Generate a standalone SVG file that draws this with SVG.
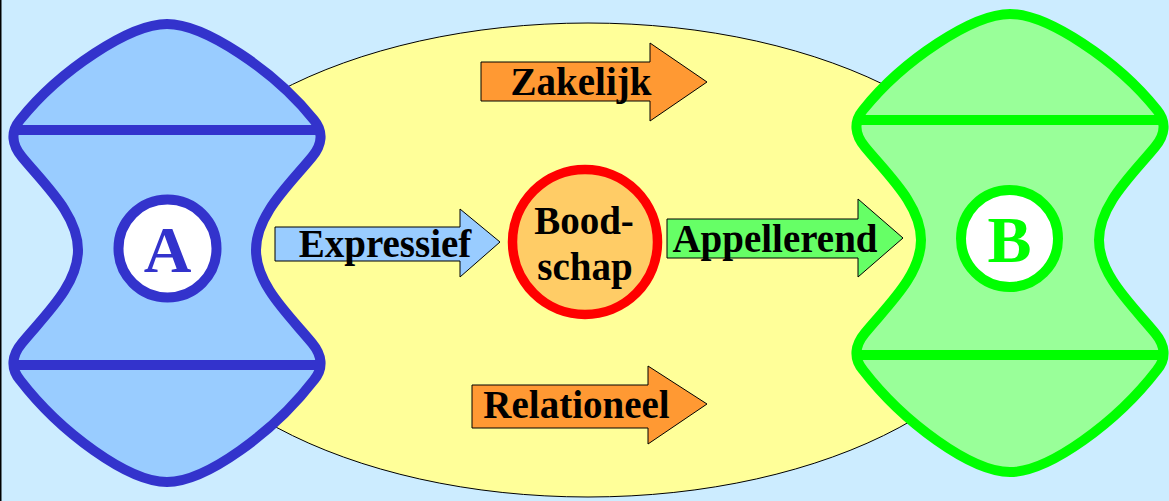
<svg xmlns="http://www.w3.org/2000/svg" width="1169" height="501" viewBox="0 0 1169 501">
  <defs>
    <style>
      .lbl { font-family: "Liberation Serif", "Times New Roman", serif; font-weight: bold; font-size: 39px; fill: #000; text-anchor: middle; }
      .letter { font-family: "Liberation Serif", "Times New Roman", serif; font-weight: bold; font-size: 66px; text-anchor: middle; }
      .barrow { stroke: #000; stroke-width: 1; stroke-linejoin: miter; }
      .party { stroke-width: 10; stroke-linejoin: round; }
    </style>
    <!-- hourglass outline of a communicating party, centred on x=167 -->
    <path id="hourglass" d="M167,24 C130,24 60,70 20,120 C10,132 12,145 22,157 C45,185 78,215 78,250 C78,285 45,315 22,343 C12,355 10,368 20,380 C60,432 128,482 167,482 C206,482 274,432 314,380 C324,368 322,355 312,343 C289,315 256,285 256,250 C256,215 289,185 312,157 C322,145 324,132 314,120 C274,70 204,24 167,24 Z"/>
  </defs>

  <!-- background -->
  <rect x="0" y="0" width="1169" height="501" fill="#CCECFF"/>
  <line x1="0.75" y1="0" x2="0.75" y2="501" stroke="#000" stroke-width="1.5"/>

  <!-- message field -->
  <g id="field">
    <ellipse cx="588" cy="260" rx="440" ry="237" fill="#FFFF99" stroke="#000" stroke-width="1"/>
  </g>

  <!-- sender A -->
  <g id="sender-A">
    <use href="#hourglass" class="party" fill="#99CCFF" stroke="#3333CC"/>
    <line x1="14" y1="130" x2="320" y2="130" stroke="#3333CC" stroke-width="10"/>
    <line x1="14" y1="365" x2="320" y2="365" stroke="#3333CC" stroke-width="10"/>
    <circle cx="167.5" cy="248.5" r="49" fill="#FFFFFF" stroke="#3333CC" stroke-width="10"/>
    <text class="letter" x="167.5" y="272" fill="#3333CC">A</text>
  </g>

  <!-- receiver B -->
  <g id="receiver-B">
    <use href="#hourglass" transform="translate(843,-10)" class="party" fill="#99FF99" stroke="#00FF00"/>
    <line x1="857" y1="120" x2="1163" y2="120" stroke="#00FF00" stroke-width="10"/>
    <line x1="857" y1="355" x2="1163" y2="355" stroke="#00FF00" stroke-width="10"/>
    <circle cx="1009.5" cy="238.5" r="48.5" fill="#FFFFFF" stroke="#00FF00" stroke-width="10"/>
    <text class="letter" x="1009.5" y="262" fill="#00FF00">B</text>
  </g>

  <!-- message -->
  <g id="message">
    <circle cx="585" cy="242" r="72.5" fill="#FFCC66" stroke="#FF0000" stroke-width="9.5"/>
    <text class="lbl" x="584" y="234">Bood-</text>
    <text class="lbl" x="585" y="280">schap</text>
  </g>

  <!-- block arrows -->
  <g id="connectors">
    <g id="arrow-zakelijk">
      <path class="barrow" fill="#FF9933" d="M481,62 H650 V43 L707,82 L650,121 V101 H481 Z"/>
      <text class="lbl" x="581" y="95">Zakelijk</text>
    </g>
    <g id="arrow-expressief">
      <path class="barrow" fill="#99CCFF" d="M275,227 H460 V209 L500,242 L460,277 V261 H275 Z"/>
      <text class="lbl" x="385" y="257">Expressief</text>
    </g>
    <g id="arrow-appellerend">
      <path class="barrow" fill="#66FF66" d="M667,219 H858 V199 L903,238 L858,277 V258 H667 Z"/>
      <text class="lbl" x="775" y="252">Appellerend</text>
    </g>
    <g id="arrow-relationeel">
      <path class="barrow" fill="#FF9933" d="M472,385 H648 V366 L707,404 L648,444 V428 H472 Z"/>
      <text class="lbl" x="576.5" y="418">Relationeel</text>
    </g>
  </g>
</svg>
